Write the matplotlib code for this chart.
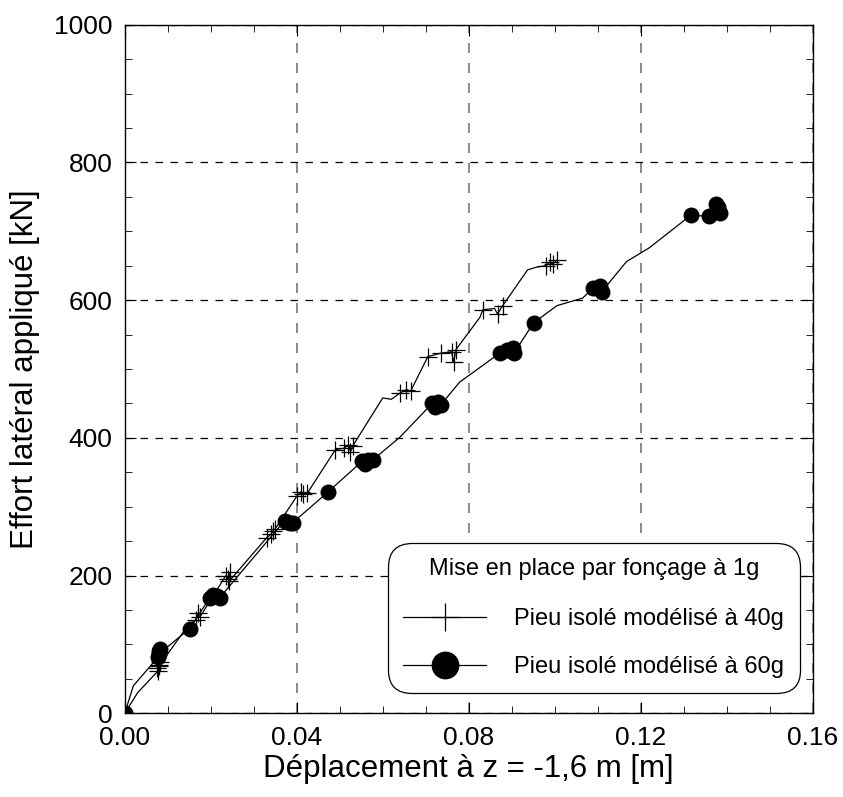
import numpy as np
import matplotlib.pyplot as plt
from matplotlib.ticker import MultipleLocator

plt.rcParams["font.family"] = ["Liberation Sans", "DejaVu Sans"]

# ==========================
# données
# ==========================

x_40g = [0.0, 0.0030, 0.0078, 0.0080, 0.0076, 0.0082, 0.0079,
         0.0150, 0.0165, 0.0170, 0.0175,
         0.0225, 0.0235, 0.0240, 0.0245, 0.0243,
         0.0330, 0.0340, 0.0345, 0.0350,
         0.0400, 0.0410, 0.0415, 0.0425,
         0.0490, 0.0510, 0.0520, 0.0525, 0.0530,
         0.0600, 0.0620, 0.0640, 0.0655, 0.0665,
         0.0705, 0.0735, 0.0760, 0.0765, 0.0770,
         0.0826, 0.0833, 0.0860, 0.0867, 0.0879,
         0.0937, 0.0958, 0.0980, 0.0990, 0.0995, 0.1005]
y_40g = [0, 30, 62, 70, 66, 75, 68,
         130, 135, 145, 140,
         190, 200, 195, 205, 192,
         255, 260, 265, 268,
         315, 322, 318, 320,
         383, 385, 390, 380, 388,
         458, 456, 465, 470, 468,
         518, 523, 525, 510, 528,
         575, 586, 588, 580, 592,
         644, 648, 650, 656, 652, 658]
mark_40g = [2, 3, 4, 5, 6, 8, 9, 10, 12, 13, 14, 15, 16, 17, 18, 19,
            20, 21, 22, 23, 24, 25, 26, 27, 28, 31, 32, 33,
            34, 35, 36, 37, 38, 40, 42, 43, 46, 47, 48, 49]

x_60g = [0.0, 0.0020, 0.0078, 0.0080, 0.0082, 0.0079,
         0.0151,
         0.0198, 0.0205, 0.0215, 0.0221,
         0.0372, 0.0377, 0.0385, 0.0391,
         0.0472,
         0.0552, 0.0558, 0.0565, 0.0577,
         0.0640,
         0.0715, 0.0722, 0.0728, 0.0735,
         0.0779,
         0.0872, 0.0890, 0.0902, 0.0905,
         0.0951,
         0.1005, 0.1065,
         0.1090, 0.1105, 0.1109,
         0.1167, 0.1220,
         0.1316, 0.1360, 0.1375, 0.1380, 0.1384]
y_60g = [0, 40, 82, 90, 93, 86,
         123,
         168, 172, 170, 168,
         280, 278, 276, 277,
         321,
         366, 362, 368, 368,
         401,
         450, 445, 452, 448,
         481,
         523, 528, 530, 523,
         567,
         592, 603,
         618, 620, 612,
         656, 676,
         723, 722, 740, 735, 727]
mark_60g = [0, 2, 3, 4, 5, 6, 7, 8, 9, 10, 11, 12, 13, 14, 15,
            16, 17, 18, 19, 21, 22, 23, 24, 26, 27, 28, 29, 30,
            33, 34, 35, 38, 39, 40, 41, 42]

legend_title = "Mise en place par fonçage à 1g"
label_40g = "Pieu isolé modélisé à 40g"
label_60g = "Pieu isolé modélisé à 60g"

# ==========================
# figure
# ==========================

fig = plt.figure(figsize=(8.43, 7.97), dpi=100)
ax = fig.add_axes([0.148, 0.105, 0.816, 0.864])

ax.plot(x_40g, y_40g, color="black", linewidth=0.9,
        marker="+", markersize=13, markeredgewidth=0.9,
        markevery=mark_40g, label=label_40g, zorder=3)
ax.plot(x_60g, y_60g, color="black", linewidth=0.9,
        marker="o", markersize=11.5, markeredgewidth=0,
        markevery=mark_60g, label=label_60g, zorder=3)

ax.set_xlim(0, 0.16)
ax.set_ylim(0, 1000)
ax.xaxis.set_major_locator(MultipleLocator(0.04))
ax.xaxis.set_minor_locator(MultipleLocator(0.01))
ax.yaxis.set_major_locator(MultipleLocator(200))
ax.yaxis.set_minor_locator(MultipleLocator(50))
ax.set_xticklabels([f"{v:.2f}" for v in ax.get_xticks()])

ax.tick_params(which="both", direction="in", top=True, right=True,
               labelsize=19, pad=9)
ax.tick_params(which="major", length=8)
ax.tick_params(which="minor", length=5)

ax.xaxis.grid(True, color="#777777", linestyle=(0, (6, 6)), linewidth=1.2)
ax.yaxis.grid(True, color="black", linestyle=(0, (6, 6)), linewidth=0.9)
ax.set_axisbelow(True)

for s in ax.spines.values():
    s.set_linewidth(1.0)

ax.set_xlabel("Déplacement à z = -1,6 m [m]", fontsize=22.5, labelpad=3)
ax.set_ylabel("Effort latéral appliqué [kN]", fontsize=22.5, labelpad=10)

leg = ax.legend(title=legend_title, loc="lower right",
                bbox_to_anchor=(0.981, 0.029), borderaxespad=0,
                fontsize=17, title_fontsize=17, handlelength=3.5,
                fancybox=True, framealpha=1, edgecolor="black",
                borderpad=0.65, labelspacing=1.1, handletextpad=1.2)
leg.get_frame().set_linewidth(0.9)
leg.get_frame().set_boxstyle("round", pad=0, rounding_size=1.0)
leg._legend_box.sep = 20
for h in leg.legend_handles:
    h.set_markersize(20)

fig.savefig("out.png", dpi=100)
